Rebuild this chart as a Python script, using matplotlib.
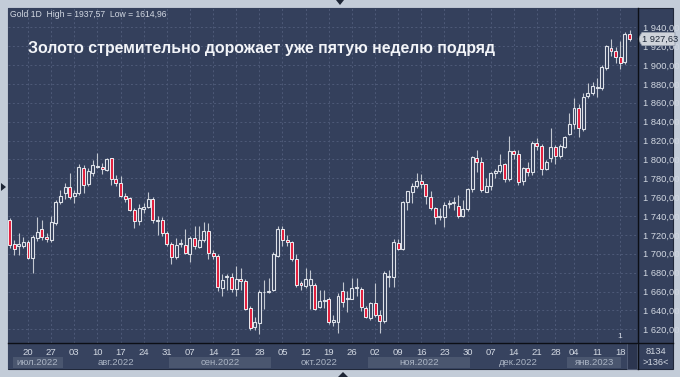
import matplotlib
matplotlib.use("Agg")
import matplotlib.pyplot as plt
from matplotlib.patches import Rectangle, Polygon
from matplotlib.lines import Line2D
import pandas as pd

plt.rcParams["font.family"] = ["Liberation Sans", "DejaVu Sans"]

# %% Data

# daily sessions, the two holiday mondays are absent from the chart
holidays = ["2022-12-26", "2023-01-02"]
dates = pd.bdate_range("2022-07-14", "2023-01-20")
dates = dates[~dates.isin(pd.to_datetime(holidays))]

opens = [
    1736, 1710, 1708, 1708, 1712, 1696, 1717, 1726, 1718, 1715,
    1733, 1755, 1764, 1771, 1761, 1764, 1791, 1774, 1786, 1792,
    1792, 1789, 1801, 1779, 1775, 1761, 1759, 1746, 1735, 1747,
    1750, 1758, 1735, 1736, 1722, 1710, 1697, 1710, 1709, 1700,
    1717, 1707, 1715, 1724, 1701, 1698, 1664, 1675, 1675, 1663,
    1673, 1671, 1643, 1622, 1627, 1659, 1660, 1662, 1698, 1726,
    1715, 1712, 1695, 1669, 1666, 1667, 1667, 1644, 1650, 1652,
    1628, 1628, 1661, 1652, 1652, 1664, 1663, 1643, 1632, 1648,
    1635, 1629, 1675, 1675, 1711, 1705, 1755, 1766, 1772, 1777,
    1774, 1760, 1748, 1739, 1739, 1753, 1754, 1751, 1740, 1747,
    1769, 1802, 1797, 1766, 1772, 1786, 1788, 1795, 1779, 1809,
    1806, 1777, 1791, 1787, 1817, 1814, 1790, 1801, 1813, 1804,
    1813, 1827, 1838, 1854, 1832, 1867, 1870, 1876, 1876, 1897,
    1918, 1915, 1908, 1903, 1933,
]
highs = [
    1738, 1715, 1722, 1718, 1715, 1720, 1739, 1736, 1722, 1740,
    1757, 1768, 1775, 1786, 1768, 1795, 1794, 1791, 1799, 1807,
    1796, 1801, 1802, 1783, 1782, 1764, 1760, 1748, 1753, 1754,
    1766, 1760, 1740, 1739, 1724, 1712, 1717, 1716, 1726, 1719,
    1729, 1729, 1734, 1733, 1704, 1700, 1679, 1679, 1680, 1687,
    1685, 1673, 1645, 1633, 1662, 1672, 1674, 1702, 1729, 1729,
    1720, 1714, 1700, 1671, 1685, 1683, 1669, 1662, 1662, 1654,
    1635, 1658, 1670, 1661, 1674, 1674, 1665, 1645, 1649, 1669,
    1640, 1682, 1683, 1716, 1716, 1756, 1767, 1775, 1786, 1785,
    1774, 1767, 1750, 1749, 1755, 1757, 1760, 1762, 1757, 1770,
    1804, 1810, 1803, 1780, 1787, 1790, 1806, 1796, 1825, 1810,
    1810, 1792, 1797, 1820, 1823, 1816, 1799, 1833, 1815, 1816,
    1825, 1849, 1865, 1859, 1870, 1881, 1882, 1886, 1900, 1921,
    1928, 1919, 1926, 1935, 1937.57,
]
lows = [
    1706, 1699, 1699, 1706, 1694, 1680, 1714, 1715, 1713, 1713,
    1731, 1753, 1758, 1758, 1754, 1762, 1764, 1772, 1782, 1791,
    1785, 1788, 1773, 1772, 1760, 1755, 1745, 1727, 1731, 1743,
    1748, 1733, 1720, 1719, 1708, 1689, 1694, 1707, 1700, 1691,
    1705, 1706, 1712, 1695, 1695, 1661, 1655, 1662, 1660, 1655,
    1662, 1640, 1619, 1619, 1614.96, 1641, 1658, 1661, 1697, 1708,
    1708, 1692, 1665, 1662, 1664, 1642, 1640, 1643, 1643, 1626,
    1623, 1616, 1644, 1638, 1652, 1655, 1639, 1632, 1630, 1633,
    1616, 1627, 1665, 1665, 1704, 1704, 1746, 1754, 1770, 1770,
    1753, 1746, 1732, 1736, 1728, 1749, 1746, 1738, 1739, 1745,
    1766, 1787, 1765, 1766, 1768, 1780, 1786, 1776, 1777, 1800,
    1773, 1773, 1782, 1784, 1810, 1783, 1789, 1797, 1795, 1802,
    1812, 1826, 1832, 1824, 1830, 1865, 1868, 1866, 1874, 1895,
    1910, 1902, 1896, 1901, 1926,
]
closes = [
    1709, 1705, 1710, 1712, 1696, 1718, 1723, 1718, 1716, 1734,
    1755, 1761, 1771, 1760, 1764, 1792, 1773, 1788, 1794, 1793,
    1790, 1800, 1779, 1775, 1761, 1758, 1746, 1735, 1748, 1750,
    1758, 1736, 1736, 1722, 1710, 1697, 1709, 1711, 1701, 1717,
    1708, 1715, 1724, 1701, 1698, 1665, 1672, 1676, 1663, 1673,
    1671, 1642, 1621, 1628, 1660, 1660, 1661, 1700, 1726, 1715,
    1712, 1695, 1667, 1667, 1673, 1673, 1642, 1650, 1651, 1628,
    1630, 1655, 1649, 1653, 1664, 1665, 1644, 1633, 1648, 1635,
    1629, 1680, 1676, 1712, 1705, 1755, 1767, 1772, 1777, 1774,
    1761, 1748, 1739, 1740, 1752, 1754, 1755, 1740, 1747, 1769,
    1803, 1797, 1768, 1772, 1786, 1788, 1794, 1779, 1809, 1806,
    1776, 1791, 1787, 1817, 1814, 1790, 1797, 1813, 1804, 1814,
    1824, 1838, 1855, 1833, 1866, 1870, 1878, 1877, 1898, 1920,
    1915, 1909, 1902, 1933, 1927.63,
]

price_ticks = list(range(1620, 1941, 20))
month_names = ["июл.2022", "авг.2022", "сен.2022", "окт.2022",
               "ноя.2022", "дек.2022", "янв.2023"]
last_price = 1927.63
header = "Gold 1D  High = 1937,57  Low = 1614,96"
title = "Золото стремительно дорожает уже пятую неделю подряд"
bar_count_text = "8134"
visible_text = ">136<"

# %% Styling

W, H = 680, 377
OUTER = "#c3ccd8"
PANEL = "#34405c"
GRID = "#4e5a78"
BAND = "#4a566f"
TXT = "#d2d8e2"
DIM = "#aab4c4"
UP_EDGE = "#dde1e8"
DN_FACE = "#e2213f"
WICK = "#c2c7d0"


def fx(px):
    return px / W


def fy(py):
    return 1 - py / H


fig = plt.figure(figsize=(W / 100, H / 100), dpi=100)
fig.patch.set_facecolor(OUTER)

# dark panel behind plot, price scale and time scale
fig.patches.append(Rectangle((fx(8), fy(369)), fx(673) - fx(8), fy(8) - fy(369),
                             transform=fig.transFigure, facecolor=PANEL,
                             edgecolor="#20283a", lw=0.8, zorder=-5))

ax = fig.add_axes([fx(8), fy(343), fx(638) - fx(8), fy(8) - fy(343)])
ax.set_facecolor(PANEL)
for s in ax.spines.values():
    s.set_visible(False)

# pixel calibration of the reference (1940 at y=27.3, 0.9437 px per unit)
ax.set_ylim(1940 - (343 - 27.3) / 0.9437, 1940 + (27.3 - 8) / 0.9437)
ax.set_xlim((8 - 9.5) / 4.627, (638 - 9.5) / 4.627)

wednesdays = [i for i, d in enumerate(dates) if d.weekday() == 2]

for p in price_ticks:
    ax.axhline(p, color=GRID, lw=0.7, ls=(0, (2, 2.5)), zorder=0)
for i in wednesdays:
    ax.axvline(i, color=GRID, lw=0.7, ls=(0, (2, 2.5)), zorder=0)

body_w = 0.64
for i in range(len(dates)):
    o, h, l, c = opens[i], highs[i], lows[i], closes[i]
    ax.plot([i, i], [l, h], color=WICK, lw=0.8, zorder=2, solid_capstyle="butt")
    lo, hi = min(o, c), max(o, c)
    if hi - lo < 0.6:
        hi = lo + 0.6
    if c >= o:
        rect = Rectangle((i - body_w / 2, lo), body_w, hi - lo,
                         facecolor=PANEL, edgecolor=UP_EDGE, lw=0.8, zorder=3)
    else:
        rect = Rectangle((i - body_w / 2, lo), body_w, hi - lo,
                         facecolor=DN_FACE, edgecolor="#eceef2", lw=0.7, zorder=3)
    ax.add_patch(rect)

ax.set_xticks([])
ax.yaxis.tick_right()
ax.set_yticks(price_ticks)
ax.set_yticklabels([f"{p // 1000} {p % 1000:03d},00" for p in price_ticks])
ax.tick_params(axis="y", length=0, pad=3.5, labelsize=6.7, labelcolor=TXT)

# last price tag on the scale
ty = 27.3 + (1940 - last_price) * 0.9437
tag = Polygon([(fx(638), fy(ty)), (fx(642), fy(ty - 6.5)), (fx(675), fy(ty - 6.5)),
               (fx(675), fy(ty + 6.5)), (fx(642), fy(ty + 6.5))],
              closed=True, transform=fig.transFigure, facecolor="#cfd3da",
              edgecolor="#9aa2b0", lw=0.6, zorder=5)
fig.patches.append(tag)
lp = f"{int(last_price) // 1000} {int(last_price) % 1000:03d},{round(last_price % 1 * 100):02d}"
fig.text(fx(642), fy(ty), lp, fontsize=6.7, color="#1c2636", va="center",
         ha="left", zorder=6)

# header texts
fig.text(fx(10), fy(14.5), header, fontsize=6.2, color=TXT, va="center", ha="left")
fig.text(fx(28), fy(48), title, fontsize=11.4, fontweight="bold", color="#f2f4f8",
         va="center", ha="left")
fig.text(fx(620), fy(337), "1", fontsize=6, color=TXT, va="center", ha="center")

# %% Time scale

bx = fig.add_axes([fx(8), fy(369), fx(638) - fx(8), fy(343) - fy(369)])
bx.set_facecolor("#37435f")
bx.set_xlim(ax.get_xlim())
bx.set_ylim(26, 0)
bx.set_xticks([])
bx.set_yticks([])
for s in bx.spines.values():
    s.set_visible(False)

for i in wednesdays:
    bx.text(i, 9.5, dates[i].strftime("%d"), fontsize=6.8, color=TXT,
            ha="center", va="center")

month_keys = sorted(set((d.year, d.month) for d in dates))
x_lo, x_hi = bx.get_xlim()
for k, key in enumerate(month_keys):
    idx = [i for i, d in enumerate(dates) if (d.year, d.month) == key]
    a = max(idx[0] - 0.5, x_lo + 1.0)
    b = min(idx[-1] + 0.5, 132.2)
    if k % 2 == 0:
        bx.add_patch(Rectangle((a, 14), b - a, 10.5, facecolor=BAND,
                               edgecolor="none", zorder=1))
    bx.text((a + b) / 2, 19.5, month_names[k], fontsize=6.8, color=DIM,
            ha="center", va="center", zorder=2)

# scroll box at the end of the time scale
fig.patches.append(Rectangle((fx(627), fy(369)), fx(637) - fx(627), fy(343) - fy(369),
                             transform=fig.transFigure, facecolor="#2c3650",
                             edgecolor="#56617a", lw=0.6, zorder=4))

fig.text(fx(656), fy(352), bar_count_text, fontsize=6.7, color=TXT,
         ha="center", va="center")
fig.text(fx(656), fy(362.5), visible_text, fontsize=6.7, color=TXT,
         ha="center", va="center")

# separators
fig.add_artist(Line2D([fx(8), fx(673)], [fy(343), fy(343)], color="#0c0f16",
                      lw=1.0, zorder=6))
fig.add_artist(Line2D([fx(638), fx(638)], [fy(8), fy(369)], color="#0c0f16",
                      lw=1.0, zorder=6))

# small navigation arrows on the frame
for pts in ([(336, 0), (344, 0), (340, 5)],
            [(338, 377), (348, 377), (343, 372)],
            [(1, 183), (1, 191), (6, 187)]):
    fig.patches.append(Polygon([(fx(x), fy(y)) for x, y in pts], closed=True,
                               transform=fig.transFigure, facecolor="#1e2636",
                               edgecolor="none", zorder=7))

fig.savefig("out.png", dpi=100, facecolor=fig.get_facecolor())
